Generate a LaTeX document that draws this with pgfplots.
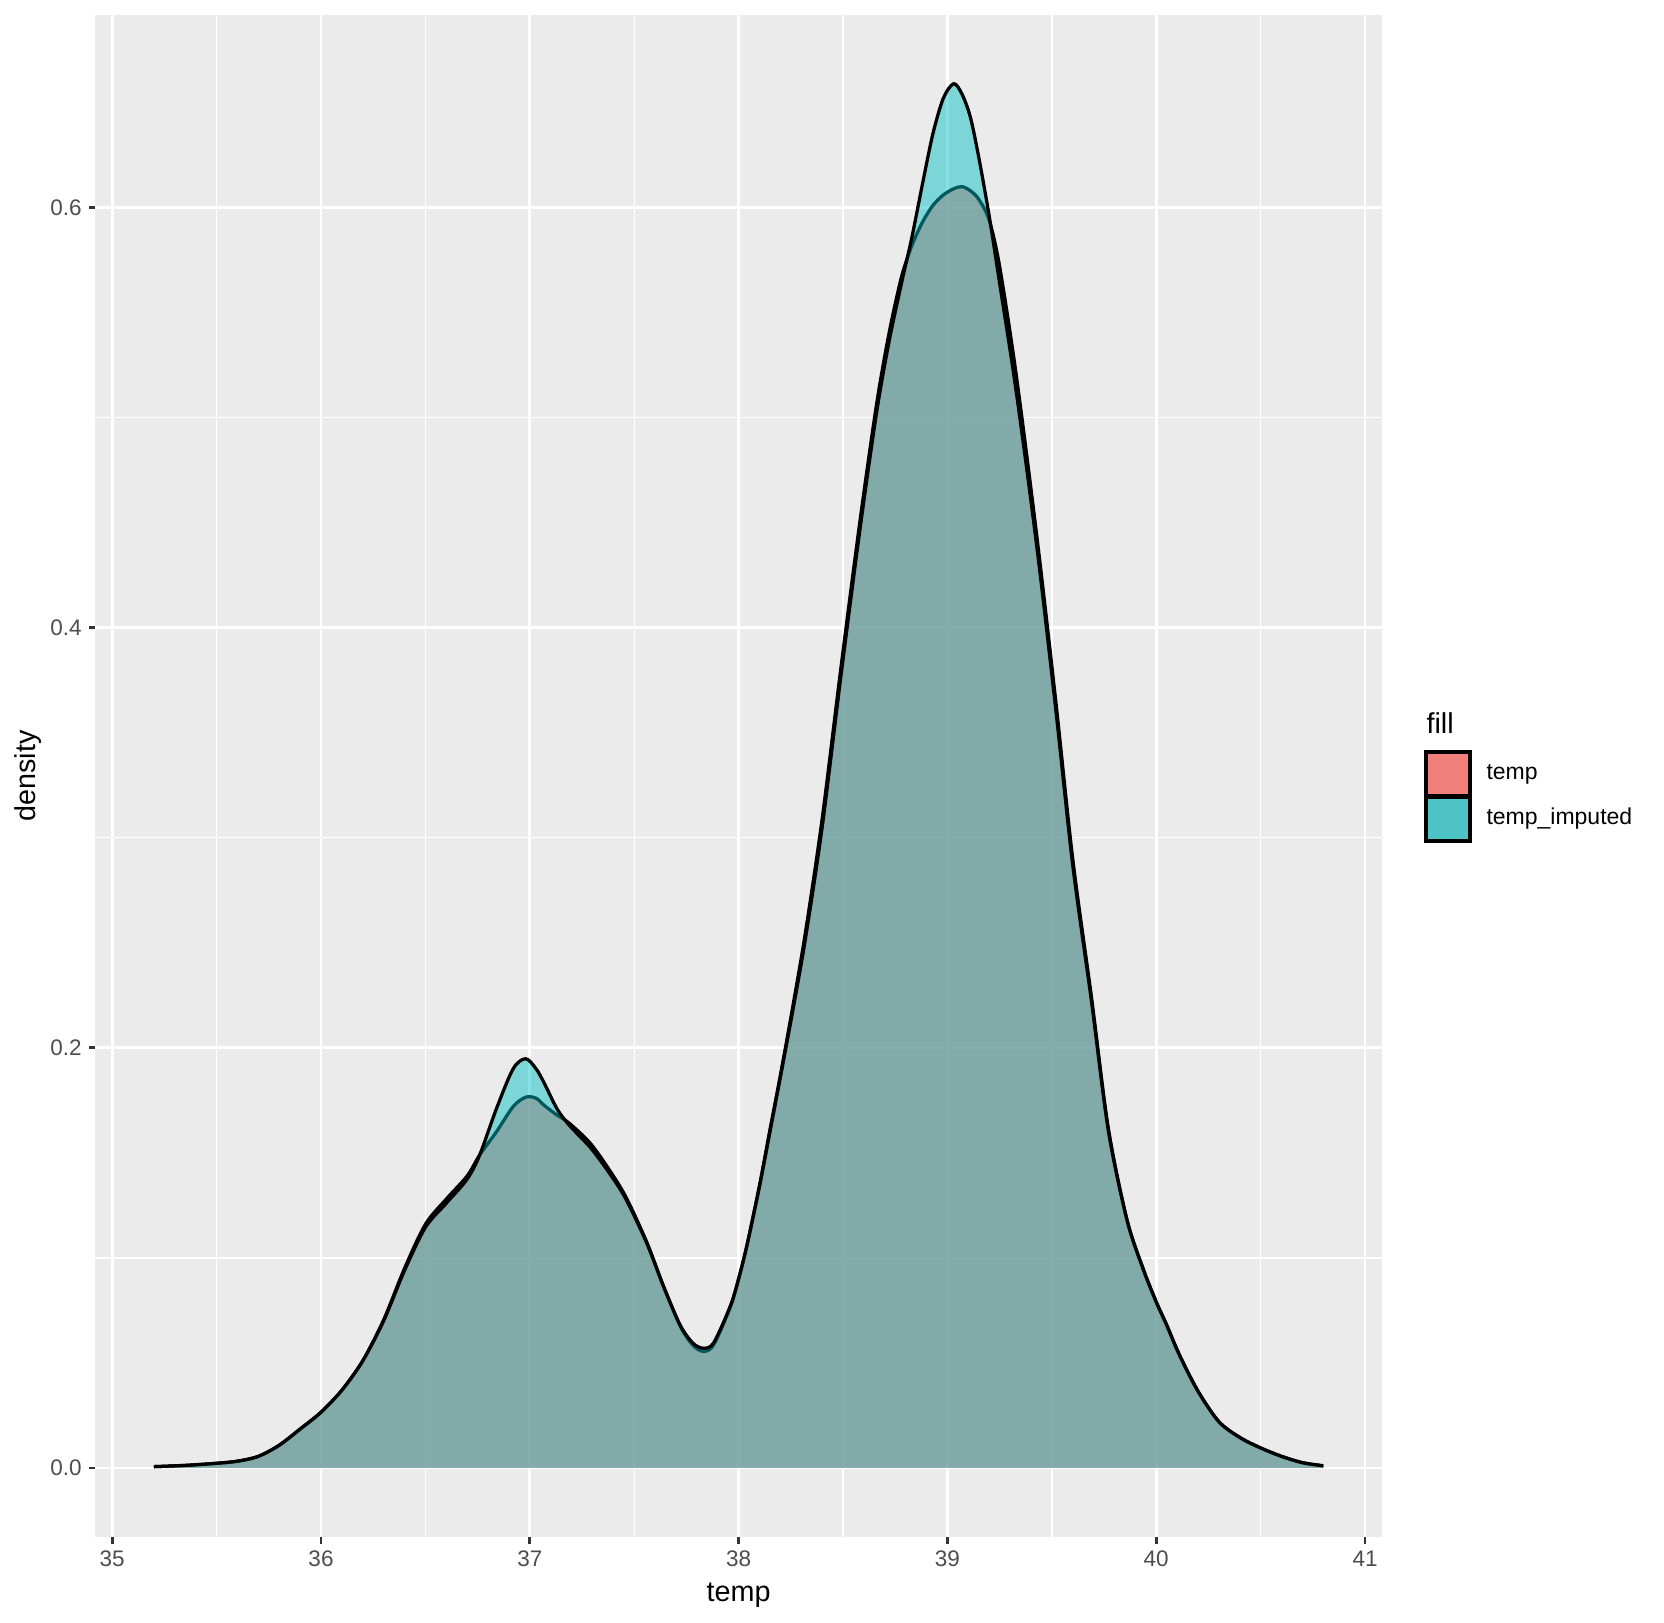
\documentclass[border=0pt]{standalone}
\usepackage{fontspec}
\setmainfont{Liberation Sans}
\usepackage{pgfplots}
\pgfplotsset{compat=1.18}
\usepackage{pgfplotstable}
\definecolor{panelbg}{HTML}{EBEBEB}
\definecolor{tred}{HTML}{F8766D}
\definecolor{tteal}{HTML}{00BFC4}
\definecolor{keyred}{RGB}{241,128,124}
\definecolor{keyteal}{RGB}{77,195,197}
\definecolor{ticklab}{HTML}{4D4D4D}
\definecolor{tickcol}{HTML}{333333}

\pgfplotstableread{
x t r
35.2 0.0006 0.0006
35.35 0.0012 0.0012
35.5 0.0022 0.0022
35.6 0.0032 0.0032
35.7 0.0055 0.0055
35.8 0.0108 0.0108
35.9 0.0185 0.0185
36.0 0.0265 0.0265
36.1 0.0370 0.0370
36.2 0.0510 0.0510
36.3 0.0700 0.0705
36.4 0.0940 0.0950
36.5 0.1145 0.1160
36.6 0.1260 0.1280
36.7 0.1375 0.1390
36.76 0.1490 0.1490
36.84 0.1710 0.1600
36.92 0.1900 0.1720
36.98 0.1948 0.1765
37.03 0.1900 0.1760
37.07 0.1830 0.1725
37.13 0.1710 0.1680
37.19 0.1630 0.1640
37.29 0.1525 0.1545
37.38 0.1405 0.1420
37.46 0.1280 0.1290
37.56 0.1070 0.1075
37.64 0.0865 0.0865
37.72 0.0680 0.0675
37.78 0.0595 0.0585
37.83 0.0570 0.0555
37.88 0.0595 0.0585
37.96 0.0770 0.0765
38.0 0.0900 0.0900
38.04 0.1060 0.1060
38.1 0.1340 0.1345
38.15 0.1600 0.1610
38.2 0.1860 0.1870
38.26 0.2180 0.2200
38.32 0.2520 0.2550
38.4 0.3050 0.3090
38.49 0.3770 0.3810
38.58 0.4460 0.4500
38.66 0.5020 0.5060
38.72 0.5360 0.5400
38.78 0.5640 0.5670
38.83 0.5860 0.5820
38.88 0.6110 0.5930
38.93 0.6350 0.6010
38.98 0.6520 0.6060
39.03 0.6590 0.6090
39.07 0.6540 0.6100
39.11 0.6430 0.6080
39.15 0.6240 0.6040
39.2 0.5960 0.5940
39.25 0.5640 0.5720
39.33 0.5120 0.5200
39.43 0.4370 0.4420
39.52 0.3600 0.3640
39.6 0.2870 0.2900
39.69 0.2220 0.2240
39.77 0.1610 0.1620
39.86 0.1180 0.1180
39.94 0.0940 0.0940
40.0 0.0790 0.0790
40.05 0.0680 0.0680
40.11 0.0540 0.0540
40.2 0.0365 0.0365
40.3 0.0220 0.0220
40.4 0.0145 0.0145
40.5 0.0095 0.0095
40.6 0.0055 0.0055
40.7 0.0025 0.0025
40.8 0.0010 0.0010
}\densdata

\begin{document}
\begin{tikzpicture}
\useasboundingbox (-38.2pt,-34pt) rectangle (627.4pt,614.8pt);
\begin{axis}[
  at={(0pt,0pt)}, anchor=south west,
  scale only axis, width=514.5pt, height=608.8pt,
  xmin=34.92, xmax=41.08, ymin=-0.0329, ymax=0.6917,
  xtick={35,36,37,38,39,40,41}, ytick={0,0.2,0.4,0.6},
  minor xtick={35.5,36.5,37.5,38.5,39.5,40.5},
  minor ytick={0.1,0.3,0.5},
  grid=both,
  major grid style={white, line width=1.1pt},
  minor grid style={white, line width=0.55pt},
  axis background/.style={fill=panelbg},
  axis line style={draw=none},
  tick pos=left, tick align=outside,
  major tick length=2.7pt, minor tick length=0pt,
  tick style={color=tickcol, line width=1.1pt},
  /pgf/number format/assume math mode=true,
  xticklabel style={font=\fontsize{9}{10}\selectfont, text=ticklab, anchor=north, inner sep=0pt, yshift=-2.7pt},
  yticklabel style={font=\fontsize{9}{10}\selectfont, text=ticklab, anchor=east, inner sep=0pt, xshift=-2.6pt,
    /pgf/number format/.cd, fixed, fixed zerofill, precision=1},
  xlabel={temp}, ylabel={density},
  xlabel style={font=\fontsize{11.5}{13}\selectfont, at={(axis description cs:0.5,-0.0381)}, anchor=center, inner sep=0pt},
  ylabel style={font=\fontsize{11.5}{13}\selectfont, at={(axis description cs:-0.0525,0.5)}, anchor=center, inner sep=0pt},
]
\addplot[draw=none, fill=tred, fill opacity=0.7, smooth] table[x=x,y=r] {\densdata} \closedcycle;
\addplot[black, line width=1.3pt, smooth] table[x=x,y=r] {\densdata};
\addplot[draw=none, fill=tteal, fill opacity=0.47, smooth] table[x=x,y=t] {\densdata} \closedcycle;
\addplot[black, line width=1.3pt, smooth] table[x=x,y=t] {\densdata};
\end{axis}
\node[anchor=base west, inner sep=0pt, font=\fontsize{11.5}{13}\selectfont] at (532.2pt,321.6pt) {fill};
\draw[fill=keyred, line width=1.3pt] (532.2pt,296.4pt) rectangle (549.8pt,314.0pt);
\draw[fill=keyteal, line width=1.3pt] (532.2pt,278.4pt) rectangle (549.8pt,296.0pt);
\node[anchor=west, inner sep=0pt, font=\fontsize{9.2}{11}\selectfont] at (556.2pt,305.2pt) {temp};
\node[anchor=west, inner sep=0pt, font=\fontsize{9.2}{11}\selectfont] at (556.2pt,287.2pt) {temp\_imputed};
\end{tikzpicture}
\end{document}
